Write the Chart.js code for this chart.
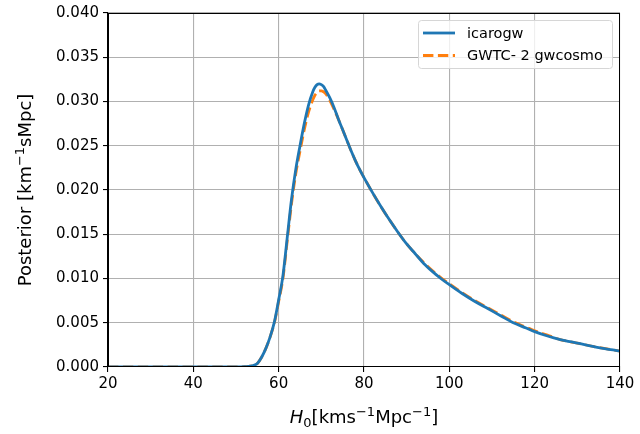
<!DOCTYPE html>
<html>
<head>
<meta charset="utf-8">
<script src="https://cdn.jsdelivr.net/npm/chart.js@4.4.1/dist/chart.umd.min.js"></script>
<style>
  html, body { margin: 0; padding: 0; background: #fff; }
  #wrap { width: 640px; height: 434px; }
</style>
</head>
<body>
<div id="wrap"><canvas id="posterior" width="640" height="434"></canvas></div>
<script>
// H0 grid (km/s/Mpc) and posteriors
var h0 = [20, 30, 40, 48, 50, 52, 53, 54, 55, 56, 57, 58, 59, 60, 61, 62, 63, 64, 65, 66, 67, 68, 68.5, 69, 69.5, 70, 70.5,
          71, 72, 73, 74, 75, 76, 77, 78, 79, 80, 82, 84, 86, 88, 90, 92, 94, 96, 98, 100,
          103, 106, 109, 112, 115, 118, 120, 123, 126, 130, 135, 140];

var icarogw = [0, 0, 0, 0, 0, 0.00003, 0.00008, 0.00016, 0.0004, 0.0011, 0.0021, 0.0034, 0.0051, 0.0076, 0.0103,
               0.0146, 0.0189, 0.0223, 0.0250, 0.0275, 0.0296, 0.0311, 0.0316, 0.0319, 0.0320, 0.0319, 0.0317,
               0.0313, 0.0304, 0.0293, 0.0280, 0.0268, 0.0256, 0.0244, 0.0233, 0.0223, 0.0214,
               0.0197, 0.0181, 0.0166, 0.0152, 0.0139, 0.0128, 0.0117, 0.0108, 0.0100, 0.0093,
               0.0083, 0.0074, 0.0066, 0.0058, 0.0050, 0.0044, 0.0040, 0.0035, 0.0031, 0.0027, 0.0022, 0.0018];

var gwcosmo = [0, 0, 0, 0, 0, 0.00003, 0.00008, 0.00016, 0.0004, 0.0011, 0.0021, 0.0034, 0.0050, 0.0074, 0.0100,
               0.0142, 0.0184, 0.0218, 0.0244, 0.0268, 0.0288, 0.0302, 0.0307, 0.0310, 0.0312, 0.0312, 0.0311,
               0.0309, 0.0301, 0.0291, 0.0280, 0.0268, 0.0256, 0.0244, 0.0233, 0.0223, 0.0214,
               0.0197, 0.0181, 0.0166, 0.0152, 0.0139, 0.0128, 0.0118, 0.0109, 0.0101, 0.0094,
               0.0084, 0.0075, 0.0067, 0.0059, 0.0051, 0.0045, 0.0041, 0.0036, 0.0031, 0.0027, 0.0022, 0.0018];

var seriesNames = ['icarogw', 'GWTC- 2 gwcosmo'];
var xTicks = [20, 40, 60, 80, 100, 120, 140];

var FONT = 'DejaVu Sans';
var LABEL_PX = 18;

function toPoints(xs, ys) {
  var pts = [];
  for (var i = 0; i < xs.length; i++) pts.push({x: xs[i], y: ys[i]});
  return pts;
}

// text pieces with mathtext-like super/subscripts
function f(size, italic) { return (italic ? 'italic ' : '') + size + 'px "' + FONT + '"'; }
var SUP = Math.round(LABEL_PX * 0.7);
var xLabelParts = [
  {t: 'H', f: f(LABEL_PX, true), dy: 0},
  {t: '0', f: f(SUP), dy: 4},
  {t: '[kms', f: f(LABEL_PX), dy: 0},
  {t: '\u22121', f: f(SUP), dy: -7},
  {t: 'Mpc', f: f(LABEL_PX), dy: 0},
  {t: '\u22121', f: f(SUP), dy: -7},
  {t: ']', f: f(LABEL_PX), dy: 0}
];
var yLabelParts = [
  {t: 'Posterior [km', f: f(LABEL_PX), dy: 0},
  {t: '\u22121', f: f(SUP), dy: -7},
  {t: 'sMpc]', f: f(LABEL_PX), dy: 0}
];

function drawParts(ctx, parts, cx, base) {
  var total = 0;
  parts.forEach(function(p) { ctx.font = p.f; p.w = ctx.measureText(p.t).width; total += p.w; });
  var x = cx - total / 2;
  ctx.textBaseline = 'alphabetic';
  ctx.textAlign = 'left';
  ctx.fillStyle = '#000';
  parts.forEach(function(p) { ctx.font = p.f; ctx.fillText(p.t, x, base + p.dy); x += p.w; });
}

// spines on top/right, legend box and axis labels
var extras = {
  id: 'extras',
  afterDraw: function(chart) {
    var ctx = chart.ctx, a = chart.chartArea;
    ctx.save();
    ctx.strokeStyle = '#000';
    ctx.lineWidth = 1;
    ctx.strokeRect(a.left + 0.5, a.top + 0.5, a.right - a.left - 1, a.bottom - a.top - 1);

    // legend
    var lx = 418.5, ly = 20.5, lw = 194, lh = 48, r = 3;
    ctx.beginPath();
    ctx.moveTo(lx + r, ly);
    ctx.arcTo(lx + lw, ly, lx + lw, ly + lh, r);
    ctx.arcTo(lx + lw, ly + lh, lx, ly + lh, r);
    ctx.arcTo(lx, ly + lh, lx, ly, r);
    ctx.arcTo(lx, ly, lx + lw, ly, r);
    ctx.closePath();
    ctx.fillStyle = 'rgba(255,255,255,0.8)';
    ctx.fill();
    ctx.strokeStyle = '#d6d6d6';
    ctx.stroke();

    ctx.font = f(14.5);
    ctx.textBaseline = 'middle';
    ctx.textAlign = 'left';
    chart.data.datasets.forEach(function(ds, i) {
      var y = 33 + i * 22.5;
      ctx.beginPath();
      ctx.strokeStyle = ds.borderColor;
      ctx.lineWidth = ds.borderWidth;
      ctx.setLineDash(ds.borderDash || []);
      ctx.moveTo(423, y);
      ctx.lineTo(455, y);
      ctx.stroke();
      ctx.setLineDash([]);
      ctx.fillStyle = '#000';
      ctx.fillText(ds.label, 467, y + 1);
    });

    drawParts(ctx, xLabelParts, (a.left + a.right) / 2, 423);

    ctx.translate(31, (a.top + a.bottom) / 2);
    ctx.rotate(-Math.PI / 2);
    drawParts(ctx, yLabelParts, 0, 0);
    ctx.restore();
  }
};

var chartdata = {
  datasets: [
    {
      label: seriesNames[0],
      data: toPoints(h0, icarogw),
      borderColor: '#1f77b4',
      borderWidth: 2.8,
      pointRadius: 0,
      cubicInterpolationMode: 'monotone',
      fill: false
    },
    {
      label: seriesNames[1],
      data: toPoints(h0, gwcosmo),
      borderColor: '#ff7f0e',
      borderWidth: 2.8,
      borderDash: [10.4, 4.5],
      pointRadius: 0,
      cubicInterpolationMode: 'monotone',
      fill: false
    }
  ]
};

var tickFont = { family: FONT, size: 15 };

var options = {
  responsive: false,
  animation: false,
  layout: { padding: { left: 0, right: 20, top: 13, bottom: 0 } },
  plugins: { legend: { display: false }, tooltip: { enabled: false } },
  scales: {
    x: {
      type: 'linear',
      min: 20, max: 140,
      afterBuildTicks: function(scale) { scale.ticks = xTicks.map(function(v) { return {value: v}; }); },
      afterFit: function(scale) { scale.height = 67; },
      grid: { color: '#b0b0b0', lineWidth: 1.1, tickColor: '#000', tickLength: 5 },
      border: { color: '#000', width: 1.1 },
      ticks: { color: '#000', font: tickFont, padding: 3, maxRotation: 0 }
    },
    y: {
      type: 'linear',
      min: 0, max: 0.04,
      afterFit: function(scale) { scale.width = 108; },
      grid: { color: '#b0b0b0', lineWidth: 1.1, tickColor: '#000', tickLength: 5 },
      border: { color: '#000', width: 1.1 },
      ticks: {
        stepSize: 0.005, color: '#000', font: tickFont, padding: 4,
        callback: function(v) { return v.toFixed(3); }
      }
    }
  }
};

var ctx = document.getElementById('posterior');
var chart = new Chart(ctx, { type: 'line', data: chartdata, options: options, plugins: [extras] });
</script>
</body>
</html>
